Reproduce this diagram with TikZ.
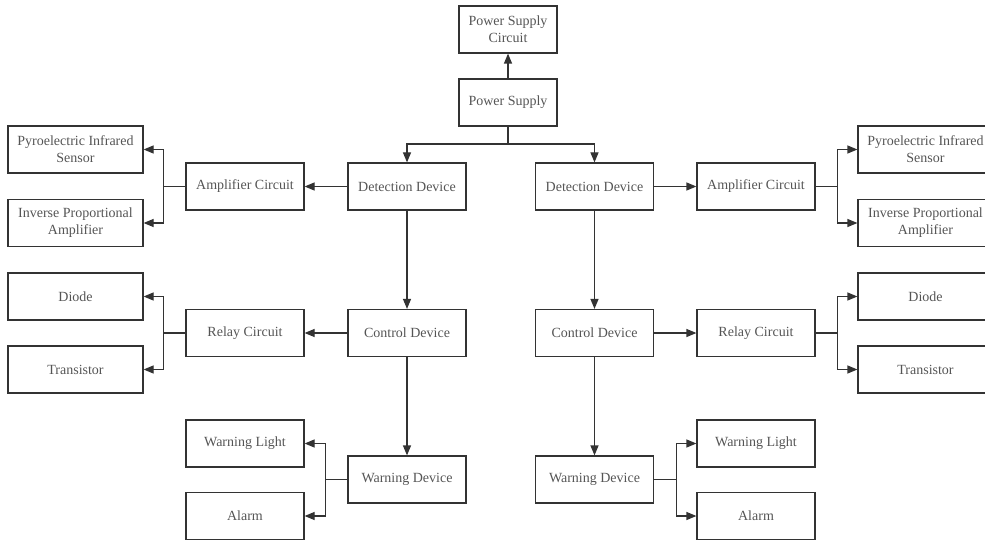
\documentclass[tikz,border=0pt]{standalone}
\usepackage{fontspec}
\setmainfont{Liberation Serif}
\usetikzlibrary{arrows.meta}

\definecolor{linegray}{HTML}{333333}
\definecolor{textgray}{HTML}{555555}

\begin{document}
\begin{tikzpicture}[x=1pt, y=-1pt,
  block/.style={draw=linegray, line width=1.2pt, text=textgray, align=center,
    minimum width=118pt, minimum height=47pt, inner sep=2pt,
    font=\fontsize{14}{17}\selectfont},
  leaf/.style={block, minimum width=135pt},
  arr/.style={draw=linegray, line width=1.2pt, -{Triangle[length=10pt,width=8pt]}},
  wire/.style={draw=linegray, line width=1.2pt}]

\useasboundingbox (0,0) rectangle (985,540);

%Power supply
\node[block, minimum width=98pt] (psc) at (508,29.5) {Power Supply\\Circuit};
\node[block, minimum width=98pt] (ps) at (508,102.5) {Power Supply};
\coordinate (psj) at (508,144);

%Left chain
\node[block] (ldet) at (407,186.5) {Detection Device};
\node[block] (lctl) at (407,333) {Control Device};
\node[block] (lwarn) at (407,479.5) {Warning Device};
\node[block] (lamp) at (245,186.5) {Amplifier Circuit};
\node[block] (lrel) at (245,333) {Relay Circuit};
\node[block] (llight) at (245,443.5) {Warning Light};
\node[block] (lalarm) at (245,516) {Alarm};
\node[leaf] (lpyro) at (75.5,149.5) {Pyroelectric Infrared\\Sensor};
\node[leaf] (linv) at (75.5,223) {Inverse Proportional\\Amplifier};
\node[leaf] (ldiode) at (75.5,296.5) {Diode};
\node[leaf] (ltrans) at (75.5,369.5) {Transistor};

%Right chain
\node[block] (rdet) at (594.5,186.5) {Detection Device};
\node[block] (rctl) at (594.5,333) {Control Device};
\node[block] (rwarn) at (594.5,479.5) {Warning Device};
\node[block] (ramp) at (756,186.5) {Amplifier Circuit};
\node[block] (rrel) at (756,333) {Relay Circuit};
\node[block] (rlight) at (756,443.5) {Warning Light};
\node[block] (ralarm) at (756,516) {Alarm};
\node[leaf] (rpyro) at (925.5,149.5) {Pyroelectric Infrared\\Sensor};
\node[leaf] (rinv) at (925.5,223) {Inverse Proportional\\Amplifier};
\node[leaf] (rdiode) at (925.5,296.5) {Diode};
\node[leaf] (rtrans) at (925.5,369.5) {Transistor};

%%Connections
\draw[arr] (ps) -- (psc);
\draw[wire] (ps) -- (psj);
\draw[arr] (psj) -| (ldet);
\draw[arr] (psj) -| (rdet);

\foreach \from/\to in {ldet/lamp, lctl/lrel, ldet/lctl, lctl/lwarn,
                       rdet/ramp, rctl/rrel, rdet/rctl, rctl/rwarn}
\draw[arr] (\from) -- (\to);

\foreach \from/\up/\down in {lamp/lpyro/linv, lrel/ldiode/ltrans, lwarn/llight/lalarm}
{
\draw[arr] (\from.west) -- ++(-22,0) |- (\up.east);
\draw[arr] (\from.west) -- ++(-22,0) |- (\down.east);
}
\foreach \from/\up/\down in {ramp/rpyro/rinv, rrel/rdiode/rtrans, rwarn/rlight/ralarm}
{
\draw[arr] (\from.east) -- ++(22,0) |- (\up.west);
\draw[arr] (\from.east) -- ++(22,0) |- (\down.west);
}
\end{tikzpicture}
\end{document}
